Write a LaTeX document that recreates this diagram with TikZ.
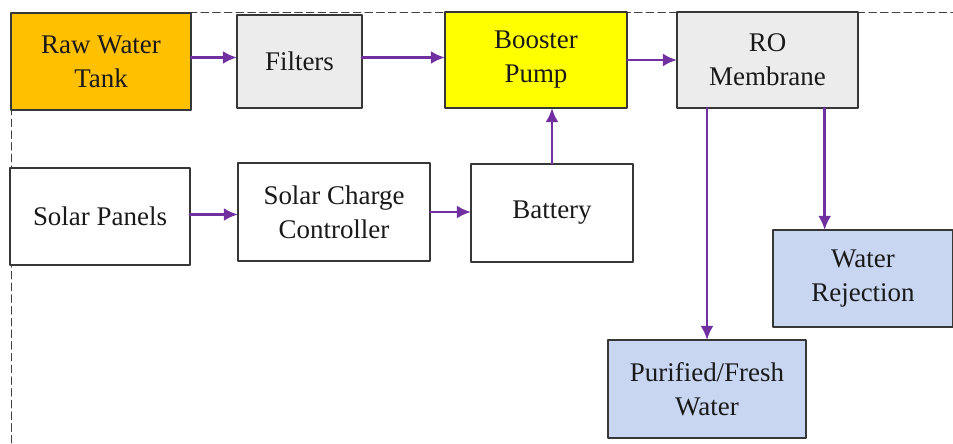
\documentclass[tikz,border=0pt]{standalone}
\usepackage{fontspec}
\setmainfont{Liberation Serif}
\usetikzlibrary{arrows.meta}

\definecolor{tankorange}{RGB}{255,192,0}
\definecolor{pumpyellow}{RGB}{255,255,0}
\definecolor{filtergray}{RGB}{236,236,236}
\definecolor{waterblue}{RGB}{200,214,242}
\definecolor{flowpurple}{RGB}{112,48,160}
\definecolor{edgegray}{RGB}{55,55,55}

\tikzset{
    block/.style={draw=edgegray,line width=1.4pt,align=center,inner sep=0pt,outer sep=0pt,
        text=black!90,font=\fontsize{23}{29}\selectfont},
    flow/.style={-{Latex[length=12pt,width=11pt]},draw=flowpurple,line width=2.2pt}
}

\begin{document}
\begin{tikzpicture}[x=0.03cm,y=-0.03cm,line cap=round,line join=round]
        \useasboundingbox (0,0) rectangle (953,443);
        \draw[dash pattern=on 6.5pt off 3.5pt,line width=0.8pt,black!75] (11,443) -- (11,12) -- (953,12);

        % water line
        \node[block,fill=tankorange,minimum width=5.4cm,minimum height=2.91cm] (raw) at (101,61.5) {Raw Water\\Tank};
        \node[block,fill=filtergray,minimum width=3.75cm,minimum height=2.79cm] (filters) at (299.5,61.5) {Filters};
        \node[block,fill=pumpyellow,minimum width=5.46cm,minimum height=2.88cm] (booster) at (536,60) {Booster\\Pump};
        \node[block,fill=filtergray,minimum width=5.43cm,minimum height=2.88cm] (ro) at (767.5,60) {RO\\Membrane};

        % power line
        \node[block,fill=white,minimum width=5.4cm,minimum height=2.91cm] (panels) at (100,216.5) {Solar Panels};
        \node[block,fill=white,minimum width=5.76cm,minimum height=2.94cm] (controller) at (334,212) {Solar Charge\\Controller};
        \node[block,fill=white,minimum width=4.86cm,minimum height=2.94cm] (battery) at (552,213) {Battery};

        % outputs
        \node[block,fill=waterblue,minimum width=5.4cm,minimum height=2.91cm] (reject) at (863,278.5) {Water\\Rejection};
        \node[block,fill=waterblue,minimum width=5.94cm,minimum height=2.94cm] (fresh) at (707,389) {Purified/Fresh\\Water};

        \draw[flow] ([yshift=0.12cm]raw.east) -- ([yshift=0.12cm]raw.east -| filters.west);
        \draw[flow] ([yshift=0.12cm]filters.east) -- ([yshift=0.12cm]filters.east -| booster.west);
        \draw[flow] (booster.east) -- (booster.east -| ro.west);
        \draw[flow] ([yshift=0.06cm]panels.east) -- ([yshift=0.06cm]panels.east -| controller.west);
        \draw[flow] (controller.east) -- (controller.east -| battery.west);
        \draw[flow] (battery.north) -- (battery.north |- booster.south);
        \draw[flow] (ro.south -| fresh.north) -- (fresh.north);
        \draw[flow] ([xshift=-1cm]ro.south east) -- ([xshift=-1cm]ro.south east |- reject.north);
    \end{tikzpicture}
\end{document}
